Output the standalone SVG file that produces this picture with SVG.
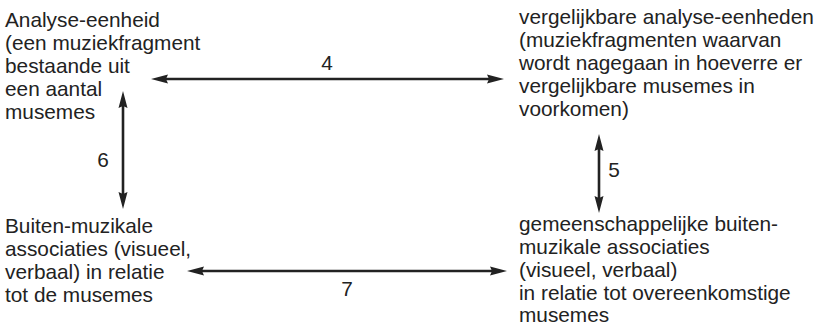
<svg xmlns="http://www.w3.org/2000/svg" width="823" height="326" viewBox="0 0 823 326">
<defs>
<style>
text{font-family:"Liberation Sans",Arial,sans-serif;font-size:20.8px;fill:#222}
.c line{stroke:#222;stroke-width:2.6;marker-start:url(#ah);marker-end:url(#ah)}
</style>
<marker id="ah" markerUnits="userSpaceOnUse" markerWidth="17" markerHeight="10" refX="5" refY="4.5" orient="auto-start-reverse" viewBox="0 0 17 9">
<path d="M0,0 L17,4.5 L0,9 L2,4.5 z" fill="#222"/>
</marker>
</defs>
<rect width="823" height="326" fill="#fff"/>
<g id="n1">
<text x="5" y="27">Analyse-eenheid</text>
<text x="5" y="50">(een muziekfragment</text>
<text x="5" y="73">bestaande uit</text>
<text x="5" y="96">een aantal</text>
<text x="5" y="119">musemes</text>
</g>
<g id="n2">
<text x="519" y="24">vergelijkbare analyse-eenheden</text>
<text x="519" y="47">(muziekfragmenten waarvan</text>
<text x="519" y="70">wordt nagegaan in hoeverre er</text>
<text x="519" y="93">vergelijkbare musemes in</text>
<text x="519" y="116">voorkomen)</text>
</g>
<g id="n3">
<text x="5" y="233">Buiten-muzikale</text>
<text x="5" y="256">associaties (visueel,</text>
<text x="5" y="279">verbaal) in relatie</text>
<text x="5" y="302">tot de musemes</text>
</g>
<g id="n4">
<text x="519" y="231">gemeenschappelijke buiten-</text>
<text x="519" y="254">muzikale associaties</text>
<text x="519" y="277">(visueel, verbaal)</text>
<text x="519" y="300">in relatie tot overeenkomstige</text>
<text x="519" y="322">musemes</text>
</g>
<g id="connectors" class="c">
<line x1="163" y1="79" x2="492" y2="79"/>
<line x1="123" y1="103" x2="123" y2="197"/>
<line x1="599" y1="146" x2="599" y2="201"/>
<line x1="199" y1="271" x2="495" y2="271"/>
<text x="327" y="70" text-anchor="middle">4</text>
<text x="103" y="167" text-anchor="middle">6</text>
<text x="614" y="177" text-anchor="middle">5</text>
<text x="347" y="296" text-anchor="middle">7</text>
</g>
</svg>
